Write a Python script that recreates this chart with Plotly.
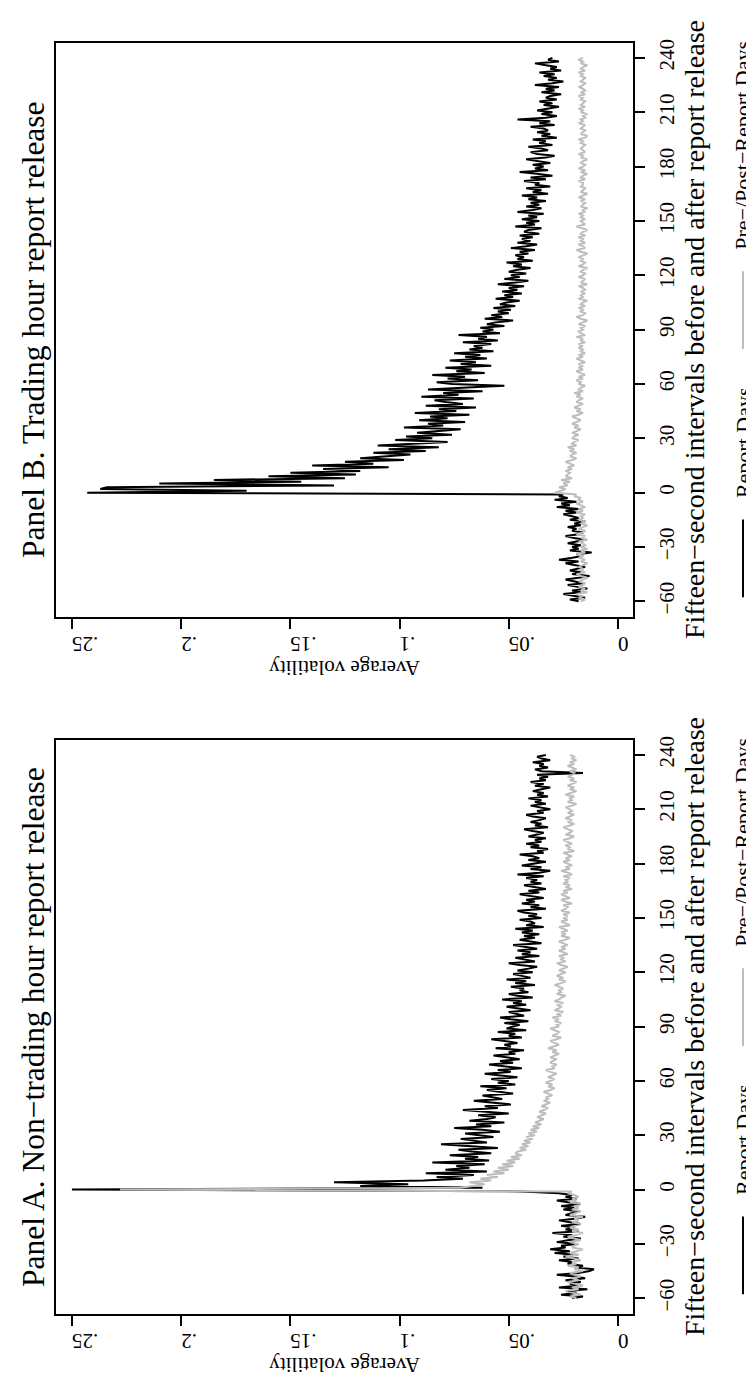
import plotly.graph_objects as go

W, H = 754, 1376

intervals = list(range(-60, 241))

# Panel A: Non-trading hour report release
a_report = [
    .021,.016,.026,.019,.023,.014,.027,.018,.022,.017,
    .024,.015,.020,.028,.018,.013,.011,.019,.016,.023,
    .021,.027,.018,.025,.020,.029,.022,.031,.024,.026,
    .019,.028,.023,.017,.025,.021,.030,.018,.024,.020,
    .026,.017,.022,.027,.019,.015,.024,.021,.018,.025,
    .020,.026,.017,.023,.028,.019,.024,.021,.027,.044,
    .250,
    .062,.118,.096,.130,.089,.071,.083,.066,.088,.060,
    .079,.068,.074,.061,.085,.059,.070,.064,.077,.058,
    .067,.073,.055,.069,.081,.060,.066,.072,.057,.063,
    .070,.054,.062,.075,.058,.065,.052,.068,.060,.056,
    .064,.050,.059,.071,.055,.061,.049,.058,.066,.053,
    .057,.062,.048,.054,.060,.051,.063,.047,.055,.050,
    .058,.046,.053,.061,.049,.055,.044,.052,.059,.048,
    .054,.045,.051,.057,.047,.050,.043,.056,.049,.052,
    .046,.053,.058,.044,.050,.047,.055,.042,.051,.048,
    .045,.052,.041,.049,.054,.043,.047,.050,.040,.046,
    .051,.042,.048,.044,.053,.039,.046,.050,.041,.045,
    .043,.049,.038,.047,.042,.051,.040,.044,.048,.039,
    .046,.041,.037,.045,.050,.038,.043,.047,.036,.044,
    .040,.046,.037,.042,.048,.035,.041,.045,.038,.043,
    .036,.044,.039,.047,.034,.042,.038,.040,.045,.035,
    .041,.037,.043,.046,.033,.040,.036,.044,.038,.042,
    .034,.039,.045,.036,.041,.033,.038,.043,.035,.040,
    .037,.042,.034,.046,.036,.031,.040,.035,.044,.038,
    .033,.041,.036,.039,.045,.034,.037,.032,.040,.036,
    .042,.035,.038,.033,.041,.037,.034,.039,.043,.032,
    .038,.035,.040,.036,.033,.039,.042,.034,.037,.031,
    .036,.040,.033,.038,.035,.041,.032,.037,.034,.039,
    .035,.031,.038,.034,.040,.033,.036,.032,.037,.016,
    .035,.038,.032,.036,.034,.039,.031,.035,.037,.033,
]
a_prepost = [
    .019,.022,.017,.020,.024,.018,.021,.016,.020,.023,
    .018,.021,.017,.019,.022,.016,.020,.018,.023,.019,
    .021,.017,.020,.024,.018,.022,.019,.016,.021,.020,
    .018,.022,.017,.020,.023,.019,.016,.021,.018,.022,
    .019,.017,.021,.018,.020,.016,.022,.019,.017,.021,
    .018,.020,.017,.022,.019,.021,.018,.020,.023,.021,
    .228,
    .072,.066,.061,.068,.058,.063,.055,.060,.052,.057,
    .050,.055,.048,.053,.047,.051,.045,.049,.044,.047,
    .046,.042,.045,.041,.044,.040,.043,.039,.042,.038,
    .041,.037,.040,.036,.039,.035,.038,.036,.034,.037,
    .035,.033,.036,.034,.032,.035,.033,.031,.034,.032,
    .033,.030,.032,.034,.031,.029,.032,.030,.033,.031,
    .029,.032,.030,.028,.031,.033,.029,.030,.028,.031,
    .030,.028,.031,.029,.027,.030,.028,.032,.029,.027,
    .029,.031,.028,.026,.030,.028,.027,.029,.031,.027,
    .028,.026,.029,.027,.030,.026,.028,.025,.029,.027,
    .026,.028,.025,.029,.027,.026,.024,.028,.026,.027,
    .025,.027,.029,.026,.024,.027,.025,.028,.026,.024,
    .027,.025,.023,.026,.028,.024,.026,.025,.027,.023,
    .025,.027,.024,.026,.023,.025,.027,.024,.022,.026,
    .024,.026,.023,.025,.027,.022,.024,.026,.023,.025,
    .023,.025,.022,.026,.024,.023,.025,.021,.024,.026,
    .022,.024,.026,.023,.025,.021,.024,.022,.025,.023,
    .024,.022,.025,.021,.023,.026,.022,.024,.021,.023,
    .025,.022,.024,.021,.023,.025,.020,.023,.022,.024,
    .021,.023,.025,.022,.020,.024,.022,.021,.023,.025,
    .022,.020,.023,.021,.024,.022,.020,.023,.021,.022,
    .024,.021,.019,.023,.021,.022,.020,.024,.021,.019,
    .022,.020,.023,.021,.019,.022,.020,.023,.021,.020,
    .022,.019,.021,.023,.020,.022,.019,.021,.020,.022,
]

# Panel B: Trading hour report release
b_report = [
    .018,.022,.015,.020,.025,.017,.021,.014,.019,.023,
    .016,.020,.024,.018,.013,.021,.017,.022,.019,.015,
    .020,.024,.018,.027,.021,.016,.019,.012,.022,.018,
    .021,.017,.023,.019,.015,.020,.024,.018,.016,.021,
    .019,.023,.017,.020,.015,.022,.018,.021,.025,.019,
    .024,.018,.028,.022,.026,.019,.029,.023,.027,.025,
    .243,
    .170,.237,.234,.130,.210,.145,.185,.125,.160,.120,
    .150,.118,.135,.105,.140,.112,.125,.098,.118,.106,
    .095,.112,.088,.105,.082,.110,.090,.078,.102,.085,
    .097,.076,.092,.083,.072,.098,.080,.087,.070,.091,
    .078,.086,.068,.093,.074,.082,.065,.088,.071,.079,
    .084,.066,.090,.073,.080,.062,.087,.069,.052,.076,
    .083,.064,.078,.070,.085,.061,.074,.067,.079,.058,
    .072,.065,.077,.060,.070,.063,.075,.057,.068,.062,
    .066,.058,.071,.055,.064,.060,.073,.054,.062,.057,
    .063,.052,.060,.056,.048,.061,.053,.058,.050,.055,
    .049,.057,.047,.054,.051,.045,.056,.048,.052,.044,
    .053,.046,.050,.043,.055,.047,.041,.052,.045,.049,
    .042,.050,.046,.040,.048,.044,.051,.039,.046,.043,
    .047,.041,.045,.038,.049,.042,.037,.046,.040,.044,
    .039,.045,.036,.043,.041,.035,.047,.038,.042,.036,
    .044,.037,.041,.034,.046,.039,.035,.042,.036,.040,
    .033,.041,.037,.044,.032,.039,.035,.042,.031,.038,
    .036,.043,.033,.040,.030,.037,.045,.032,.038,.034,
    .039,.031,.036,.042,.033,.029,.037,.040,.032,.035,
    .041,.030,.036,.033,.039,.028,.035,.031,.037,.032,
    .034,.040,.029,.036,.031,.046,.033,.028,.035,.030,
    .037,.032,.027,.034,.030,.036,.028,.033,.031,.026,
    .035,.029,.033,.027,.038,.030,.025,.032,.028,.034,
    .029,.036,.026,.031,.028,.033,.038,.027,.032,.030,
]
b_prepost = [
    .017,.015,.018,.016,.019,.014,.017,.015,.018,.016,
    .015,.018,.016,.014,.017,.019,.015,.017,.016,.018,
    .016,.014,.017,.015,.018,.016,.019,.015,.017,.014,
    .017,.015,.016,.018,.014,.017,.015,.019,.016,.015,
    .018,.016,.014,.017,.015,.018,.016,.017,.015,.019,
    .016,.018,.015,.017,.019,.016,.018,.017,.020,.019,
    .029,
    .026,.024,.027,.023,.025,.022,.026,.021,.024,.023,
    .022,.024,.021,.023,.020,.022,.024,.021,.019,.022,
    .021,.019,.022,.020,.023,.019,.021,.020,.018,.021,
    .020,.018,.021,.019,.017,.020,.018,.021,.019,.017,
    .019,.021,.018,.016,.019,.017,.020,.018,.016,.019,
    .018,.016,.019,.017,.020,.016,.018,.017,.015,.018,
    .017,.019,.016,.018,.015,.017,.019,.016,.018,.016,
    .018,.015,.017,.019,.016,.018,.015,.017,.016,.018,
    .016,.018,.015,.017,.016,.019,.015,.017,.018,.016,
    .017,.015,.018,.016,.014,.017,.019,.016,.015,.017,
    .016,.018,.015,.017,.016,.014,.018,.016,.017,.015,
    .017,.015,.016,.018,.014,.017,.016,.015,.018,.016,
    .015,.017,.016,.014,.018,.016,.015,.017,.016,.018,
    .016,.014,.017,.019,.015,.016,.018,.015,.017,.016,
    .018,.015,.017,.016,.014,.017,.019,.015,.016,.017,
    .015,.017,.016,.018,.015,.016,.014,.017,.016,.015,
    .017,.015,.018,.016,.014,.017,.016,.015,.017,.016,
    .016,.018,.015,.017,.016,.014,.017,.015,.018,.016,
    .015,.017,.016,.014,.017,.016,.018,.015,.016,.017,
    .016,.015,.017,.016,.018,.015,.014,.017,.016,.015,
    .017,.016,.015,.018,.016,.017,.015,.016,.014,.017,
    .016,.018,.015,.017,.016,.015,.017,.016,.018,.015,
    .017,.015,.016,.018,.016,.015,.017,.016,.015,.017,
    .016,.018,.015,.017,.016,.014,.017,.016,.018,.016,
]

vol_ticks = [0, .05, .1, .15, .2, .25]
vol_labels = ["0", ".05", ".1", ".15", ".2", ".25"]
int_ticks = [-60, -30, 0, 30, 60, 90, 120, 150, 180, 210, 240]
int_labels = [("\u2212" + str(-t)) if t < 0 else str(t) for t in int_ticks]

panel_titles = ["Panel B. Trading hour report release",
                "Panel A. Non\u2212trading hour report release"]
x_title = "Average volatility"
y_title = "Fifteen\u2212second intervals before and after report release"
legend_names = ["Report Days", "Pre\u2212/Post\u2212Report Days"]

BLACK = "#000000"
GREY = "#bdbdbd"
FONT = "Liberation Serif"

def px(xp):
    return xp / W

def py(yp):
    return 1 - yp / H

# pixel layout (rotated Stata graph)
X0, X1 = 48, 625
panels = [
    dict(top=31, bot=607, data=(b_report, b_prepost), xa="x", ya="y"),
    dict(top=730, bot=1306, data=(a_report, a_prepost), xa="x2", ya="y2"),
]

fig = go.Figure()
for p in panels:
    rep, pp = p["data"]
    fig.add_trace(go.Scatter(x=rep, y=intervals, mode="lines", xaxis=p["xa"], yaxis=p["ya"],
                             line=dict(color=BLACK, width=2), showlegend=False,
                             name=legend_names[0]))
    fig.add_trace(go.Scatter(x=pp, y=intervals, mode="lines", xaxis=p["xa"], yaxis=p["ya"],
                             line=dict(color=GREY, width=2), showlegend=False,
                             name=legend_names[1]))

common_x = dict(range=[0.2573, -0.0069], tickvals=vol_ticks, ticktext=vol_labels,
                ticks="outside", ticklen=10, tickwidth=1.5, tickcolor="black",
                tickangle=180, showline=True, mirror=True, linecolor="black", linewidth=1.5,
                showgrid=False, zeroline=False, domain=[px(X0), px(X1)],
                tickfont=dict(family=FONT, size=21, color="black"), ticklabelstandoff=4)
common_y = dict(range=[-68.8, 248.3], tickvals=int_ticks, ticktext=int_labels,
                ticks="outside", ticklen=10, tickwidth=1.5, tickcolor="black",
                tickangle=-90, side="right", showline=True, mirror=True, linecolor="black",
                linewidth=1.5, showgrid=False, zeroline=False,
                tickfont=dict(family=FONT, size=21, color="black"), ticklabelstandoff=4)

fig.update_layout(
    xaxis=dict(common_x, anchor="y"),
    yaxis=dict(common_y, anchor="x", domain=[py(607), py(31)]),
    xaxis2=dict(common_x, anchor="y2"),
    yaxis2=dict(common_y, anchor="x2", domain=[py(1306), py(730)]),
)

annotations = []
shapes = []
for i, p in enumerate(panels):
    cy = (p["top"] + p["bot"]) / 2
    off = p["top"] - 31
    annotations.append(dict(text=panel_titles[i], x=px(25), y=py(cy), xref="paper", yref="paper",
                            textangle=-90, showarrow=False, xanchor="center", yanchor="middle",
                            font=dict(family=FONT, size=31.5, color="black")))
    annotations.append(dict(text=x_title, x=px((X0 + X1) / 2), y=py(p["bot"] + 51), xref="paper",
                            yref="paper", textangle=180, showarrow=False, xanchor="center",
                            yanchor="middle", font=dict(family=FONT, size=21, color="black")))
    annotations.append(dict(text=y_title, x=px(686), y=py(cy), xref="paper", yref="paper",
                            textangle=-90, showarrow=False, xanchor="center", yanchor="middle",
                            font=dict(family=FONT, size=28, color="black")))
    # legend
    lx = 735
    shapes.append(dict(type="line", xref="paper", yref="paper", x0=px(lx), x1=px(lx),
                       y0=py(587 + off), y1=py(509 + off), line=dict(color=BLACK, width=2)))
    annotations.append(dict(text=legend_names[0], x=px(lx), y=py(490 + off), xref="paper",
                            yref="paper", textangle=-90, showarrow=False, xanchor="center",
                            yanchor="bottom", font=dict(family=FONT, size=22, color="black")))
    shapes.append(dict(type="line", xref="paper", yref="paper", x0=px(lx), x1=px(lx),
                       y0=py(338 + off), y1=py(260 + off), line=dict(color=GREY, width=2)))
    annotations.append(dict(text=legend_names[1], x=px(lx), y=py(241 + off), xref="paper",
                            yref="paper", textangle=-90, showarrow=False, xanchor="center",
                            yanchor="bottom", font=dict(family=FONT, size=22, color="black")))

fig.update_layout(width=W, height=H, margin=dict(l=0, r=0, t=0, b=0),
                  paper_bgcolor="white", plot_bgcolor="white",
                  annotations=annotations, shapes=shapes, showlegend=False,
                  font=dict(family=FONT, color="black"))

fig.write_html("out.html")
